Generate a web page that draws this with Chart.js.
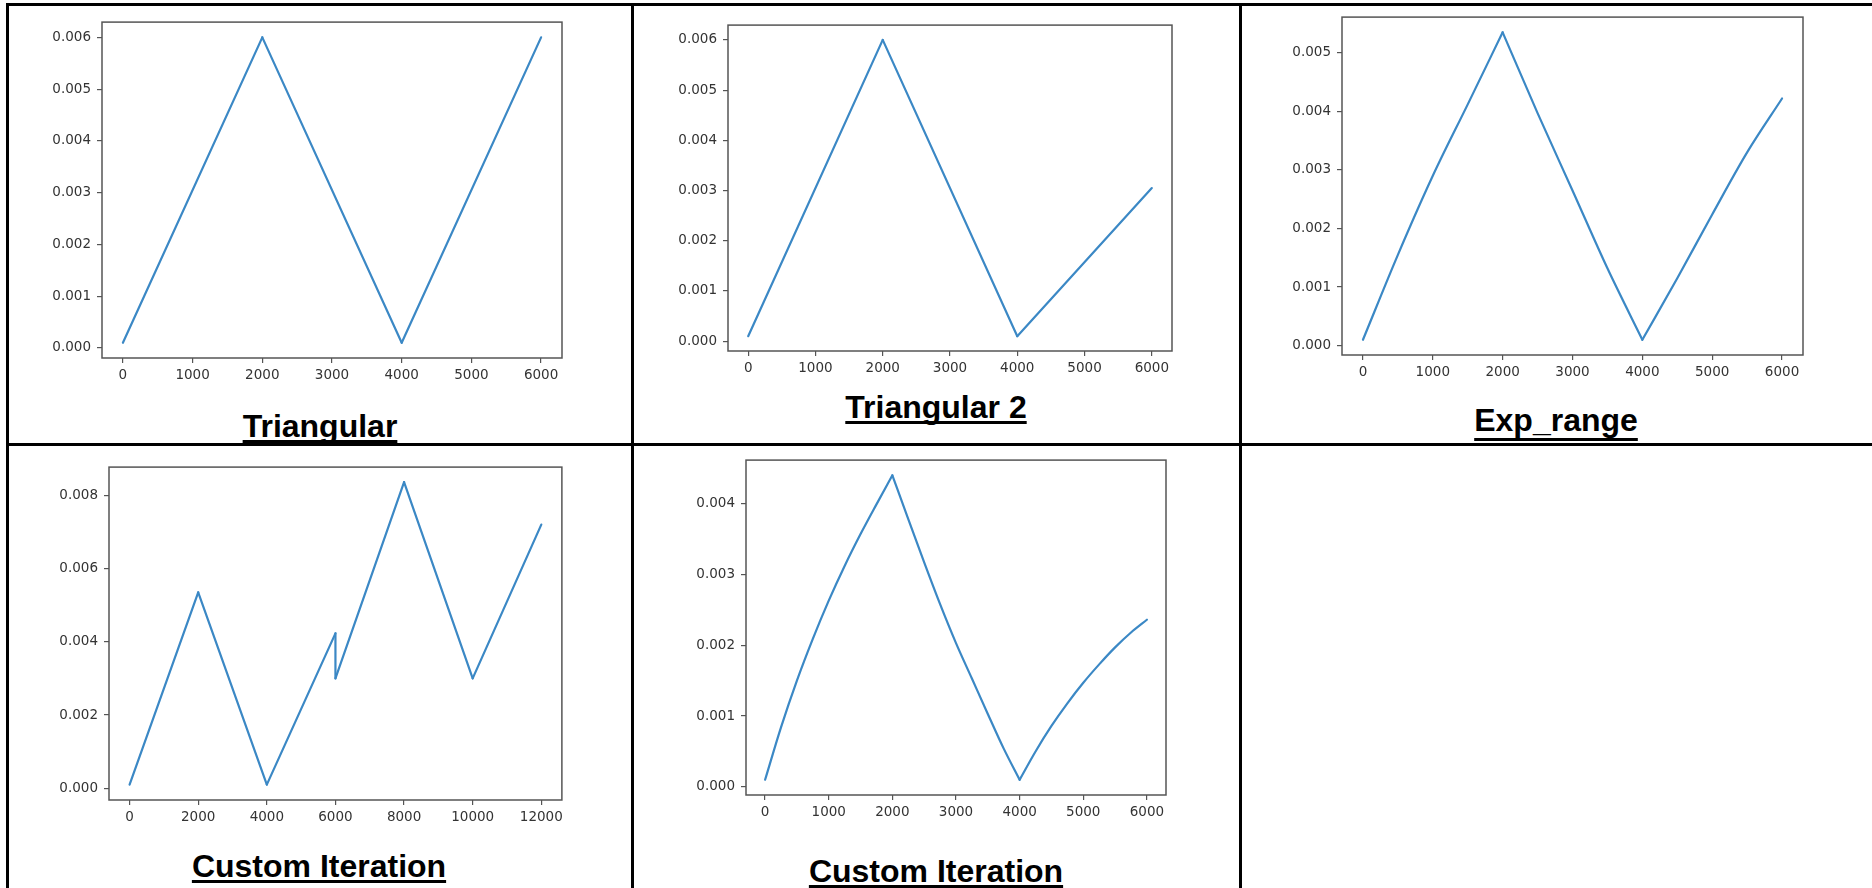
<!DOCTYPE html>
<html>
<head>
<meta charset="utf-8">
<script src="https://cdn.jsdelivr.net/npm/chart.js@4.4.1/dist/chart.umd.min.js"></script>
<style>
  body { margin: 0; background: #fff; width: 1872px; height: 888px; overflow: hidden; position: relative; }
  .line { position: absolute; background: #000; }
  canvas { position: absolute; }
  .title {
    position: absolute; width: 400px; text-align: center;
    font-family: "Liberation Sans", Arial, sans-serif; font-weight: bold; font-size: 32px; line-height: 32px;
    color: #000; text-decoration: underline; text-decoration-thickness: 3px; text-underline-offset: 3px;
    text-decoration-skip-ink: none; white-space: nowrap;
  }
</style>
</head>
<body>
<!-- table borders -->
<div class="line" style="left:6px;top:3px;width:1880px;height:3px"></div>
<div class="line" style="left:6px;top:443px;width:1880px;height:3px"></div>
<div class="line" style="left:6px;top:3px;width:3px;height:900px"></div>
<div class="line" style="left:631px;top:3px;width:3px;height:900px"></div>
<div class="line" style="left:1239px;top:3px;width:3px;height:900px"></div>

<canvas id="c1" width="525" height="380" style="left:42px;top:8px"></canvas>
<canvas id="c2" width="509" height="370" style="left:668px;top:11px"></canvas>
<canvas id="c3" width="526" height="382" style="left:1282px;top:3px"></canvas>
<canvas id="c4" width="518" height="377" style="left:49px;top:453px"></canvas>
<canvas id="c5" width="485" height="379" style="left:686px;top:446px"></canvas>

<div class="title" style="left:120px;top:410px">Triangular</div>
<div class="title" style="left:736px;top:391px">Triangular 2</div>
<div class="title" style="left:1356px;top:404px;text-underline-offset:7px">Exp_range</div>
<div class="title" style="left:119px;top:850px">Custom Iteration</div>
<div class="title" style="left:736px;top:855px">Custom Iteration</div>

<script>
// Triangular
const triIters = [0, 2000, 4000, 6000];
const triLr = [0.0001, 0.006, 0.0001, 0.006];

// Triangular 2
const tri2Iters = [0, 2000, 4000, 6000];
const tri2Lr = [0.0001, 0.006, 0.0001, 0.00305];

// Exp_range
const expIters = [0, 500, 1000, 1500, 2000, 2500, 3000, 3500, 4000, 4500, 5000, 5500, 6000];
const expLr = [0.0001, 0.00155, 0.0029, 0.00412, 0.00535, 0.00397, 0.00265, 0.00132, 0.0001, 0.00115, 0.00224, 0.0033, 0.00422];

// Custom Iteration (12000 iterations)
const custIters = [0, 2000, 4000, 6000, 6000, 8000, 10000, 12000];
const custLr = [0.0001, 0.00535, 0.0001, 0.00423, 0.003, 0.00836, 0.003, 0.0072];

// Custom Iteration (6000 iterations)
const cust2Iters = [0, 250, 500, 750, 1000, 1250, 1500, 1750, 2000, 2250, 2500, 2750, 3000,
  3250, 3500, 3750, 4000, 4250, 4500, 4750, 5000, 5250, 5500, 5750, 6000];
const cust2Lr = [0.0001, 0.00084, 0.0015, 0.00209, 0.00263, 0.00312, 0.00357, 0.00399, 0.0044,
  0.00378, 0.00317, 0.00258, 0.00203, 0.00153, 0.00103, 0.00054, 0.0001,
  0.0005, 0.00086, 0.00118, 0.00147, 0.00173, 0.00197, 0.00218, 0.00236];

// tick labels
const xTicks6k = [0, 1000, 2000, 3000, 4000, 5000, 6000];
const xTicks12k = [0, 2000, 4000, 6000, 8000, 10000, 12000];
const yTicks6 = [0, 0.001, 0.002, 0.003, 0.004, 0.005, 0.006];
const yTicks5 = [0, 0.001, 0.002, 0.003, 0.004, 0.005];
const yTicks8 = [0, 0.002, 0.004, 0.006, 0.008];
const yTicks4 = [0, 0.001, 0.002, 0.003, 0.004];

const lineColor = "#3b88c5";
const axisColor = "#555";
const tickFont = { family: "DejaVu Sans", size: 13.5 };

// draws the full frame around the plot area
const boxPlugin = {
  id: "box",
  afterDraw(chart) {
    const a = chart.chartArea;
    const ctx = chart.ctx;
    ctx.save();
    ctx.strokeStyle = axisColor;
    ctx.lineWidth = 1.5;
    ctx.strokeRect(a.left, a.top, a.right - a.left, a.bottom - a.top);
    ctx.restore();
  }
};

// splits the series where it changes direction, so that each rising/falling
// part can be smoothed while the peaks stay sharp
function splitSegments(xs, ys) {
  const segs = [];
  let cur = [{ x: xs[0], y: ys[0] }];
  let dir = 0;
  for (let i = 1; i < xs.length; i++) {
    const d = Math.sign(ys[i] - ys[i - 1]);
    if (dir !== 0 && d !== dir) {
      segs.push(cur);
      cur = [{ x: xs[i - 1], y: ys[i - 1] }];
    }
    cur.push({ x: xs[i], y: ys[i] });
    dir = d;
  }
  segs.push(cur);
  return segs;
}

function makeChart(id, xs, ys, xRange, yRange, xTicks, yTicks) {
  const datasets = splitSegments(xs, ys).map(pts => ({
    data: pts,
    borderColor: lineColor,
    borderWidth: 2.2,
    borderCapStyle: "round",
    borderJoinStyle: "round",
    pointRadius: 0,
    tension: 0,
    cubicInterpolationMode: pts.length > 2 ? "monotone" : "default",
    fill: false
  }));
  const grid = { drawOnChartArea: false, drawTicks: true, tickLength: 5, color: axisColor, lineWidth: 1.2 };
  return new Chart(document.getElementById(id), {
    type: "line",
    data: { datasets: datasets },
    options: {
      responsive: false,
      animation: false,
      devicePixelRatio: 1,
      layout: { padding: { top: 5, right: 5, left: 0, bottom: 0 } },
      plugins: { legend: { display: false }, tooltip: { enabled: false } },
      scales: {
        x: {
          type: "linear",
          min: xRange[0],
          max: xRange[1],
          afterBuildTicks: (s) => { s.ticks = xTicks.map(v => ({ value: v })); },
          afterFit: (s) => { s.height = 30; },
          grid: grid,
          border: { display: false },
          ticks: { callback: v => String(v), font: tickFont, color: "#333", padding: 4, maxRotation: 0, autoSkip: false }
        },
        y: {
          type: "linear",
          min: yRange[0],
          max: yRange[1],
          afterBuildTicks: (s) => { s.ticks = yTicks.map(v => ({ value: v })); },
          afterFit: (s) => { s.width = 60; },
          grid: grid,
          border: { display: false },
          ticks: { callback: v => v.toFixed(3), font: tickFont, color: "#333", padding: 6, autoSkip: false }
        }
      }
    },
    plugins: [boxPlugin]
  });
}

makeChart("c1", triIters, triLr, [-300, 6300], [-0.000195, 0.006295], xTicks6k, yTicks6);
makeChart("c2", tri2Iters, tri2Lr, [-300, 6300], [-0.000195, 0.006295], xTicks6k, yTicks6);
makeChart("c3", expIters, expLr, [-300, 6300], [-0.00016, 0.00561], xTicks6k, yTicks5);
makeChart("c4", custIters, custLr, [-600, 12600], [-0.00032, 0.00877], xTicks12k, yTicks8);
makeChart("c5", cust2Iters, cust2Lr, [-300, 6300], [-0.000115, 0.004615], xTicks6k, yTicks4);
</script>
</body>
</html>
